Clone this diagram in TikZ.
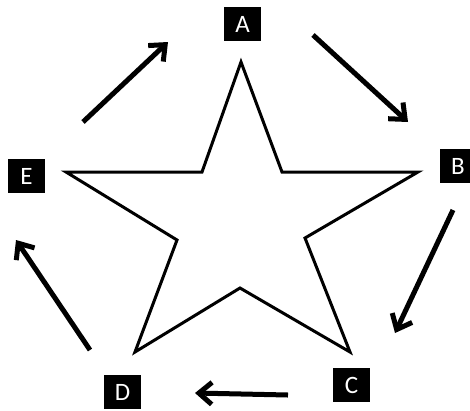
\documentclass[tikz,border=0pt]{standalone}
\usepackage{fontspec}
\setmainfont{Carlito}
\usetikzlibrary{arrows.meta}
\begin{document}
\begin{tikzpicture}[x=1pt,y=-1pt,
  lbl/.style={fill=black,text=white,minimum width=37pt,minimum height=34pt,inner sep=0pt,font=\fontsize{25}{25}\selectfont},
  flow/.style={line width=5pt,-{Straight Barb[length=13pt,width=22pt,line width=5pt]}}]
\useasboundingbox (0,0) rectangle (470,410);
\node[lbl] (A) at (242.5,24) {A};
\node[lbl] (B) at (458,166) {B};
\node[lbl] (C) at (351.5,385) {C};
\node[lbl] (D) at (122.5,392) {D};
\node[lbl] (E) at (26.5,176) {E};
\draw[line width=3pt, line join=miter] (241,62) -- (282,172) -- (418,172) -- (305,238) -- (350,352) -- (240,288) -- (135,352) -- (177,240) -- (66,172) -- (202,172) -- cycle;
\coordinate (ab1) at (313,35); \coordinate (ab2) at (408,122);
\coordinate (bc1) at (453,210); \coordinate (bc2) at (395,333);
\coordinate (cd1) at (288,395); \coordinate (cd2) at (195,393);
\coordinate (de1) at (90,350); \coordinate (de2) at (16,240);
\coordinate (ea1) at (83,122); \coordinate (ea2) at (168,42);
\draw[flow] (ab1) -- (ab2);
\draw[flow] (bc1) -- (bc2);
\draw[flow] (cd1) -- (cd2);
\draw[flow] (de1) -- (de2);
\draw[flow] (ea1) -- (ea2);
\end{tikzpicture}
\end{document}
